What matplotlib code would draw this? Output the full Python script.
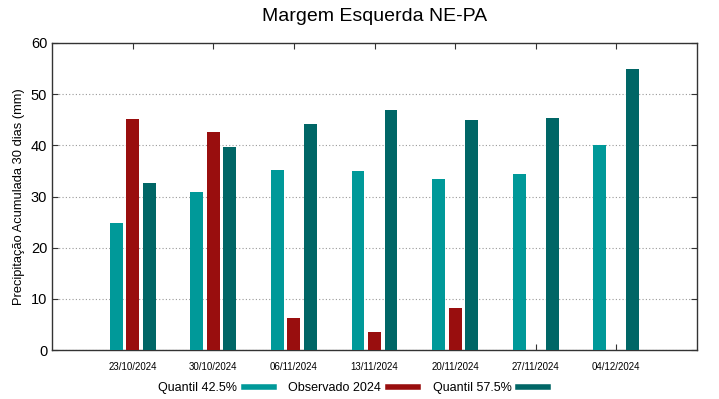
import numpy as np
import matplotlib
matplotlib.use("Agg")
from matplotlib import pyplot as plt
from matplotlib.lines import Line2D

plt.rcParams["font.family"] = ["Liberation Sans", "DejaVu Sans"]

datas = ["23/10/2024", "30/10/2024", "06/11/2024", "13/11/2024",
         "20/11/2024", "27/11/2024", "04/12/2024"]
quantil_425 = [24.8, 30.9, 35.2, 34.9, 33.4, 34.3, 40.0]
observado_2024 = [45.2, 42.7, 6.2, 3.5, 8.2, np.nan, np.nan]
quantil_575 = [32.6, 39.6, 44.2, 46.9, 45.0, 45.3, 54.9]

cor_q1 = "#009999"
cor_obs = "#990e0e"
cor_q2 = "#006666"

fig = plt.figure(figsize=(7.19, 3.99), dpi=100)
ax = fig.add_axes([52 / 719, 1 - 350 / 399, 645 / 719, 307 / 399])

x = np.arange(len(datas))
w = 0.16
off = 0.205
ax.bar(x - off, quantil_425, w, color=cor_q1, zorder=3)
ax.bar(x, observado_2024, w, color=cor_obs, zorder=3)
ax.bar(x + off, quantil_575, w, color=cor_q2, zorder=3)

ax.set_xlim(-1, len(datas))
ax.set_ylim(0, 60)
ax.set_yticks(range(0, 61, 10))
ax.set_xticks(x)
ax.set_xticklabels(datas, fontsize=7)
ax.tick_params(axis="y", labelsize=10.5, direction="in", length=4,
               right=True, color="#333333")
ax.tick_params(axis="x", direction="in", length=4, top=True, pad=9,
               color="#333333")
ax.grid(True, axis="y", linestyle=(0, (1, 2)), color="#999999", lw=0.8)
ax.set_axisbelow(True)
for s in ax.spines.values():
    s.set_color("#333333")
    s.set_linewidth(1.0)

ax.set_ylabel("Precipitação Acumulada 30 dias (mm)", fontsize=9.3, labelpad=4)
ax.set_title("Margem Esquerda NE-PA", fontsize=14, pad=16)

handles = [Line2D([], [], color=c, lw=4) for c in (cor_q1, cor_obs, cor_q2)]
fig.legend(handles, ["Quantil 42.5%", "Observado 2024", "Quantil 57.5%"],
           loc="center", bbox_to_anchor=(353 / 719, 1 - 388 / 399), ncol=3,
           frameon=False, markerfirst=False, fontsize=9, handlelength=2.4,
           handletextpad=0.5, columnspacing=1.2)

fig.savefig("out.png", dpi=100)
